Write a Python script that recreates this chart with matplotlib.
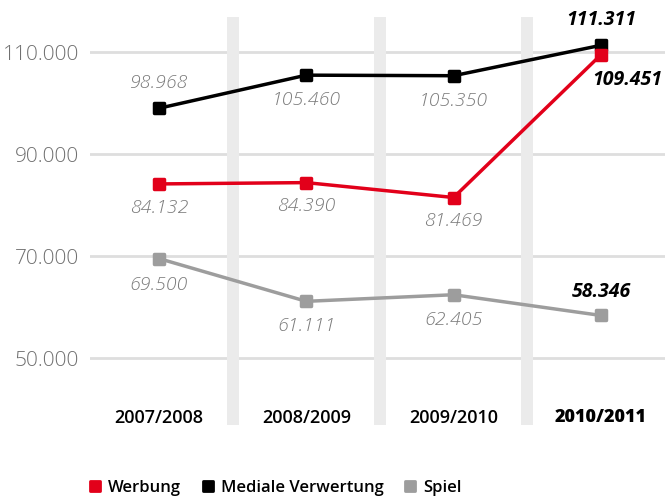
import matplotlib
matplotlib.use("Agg")
import matplotlib.pyplot as plt
from matplotlib.markers import MarkerStyle
from matplotlib.lines import Line2D

categories = ["2007/2008", "2008/2009", "2009/2010", "2010/2011"]
werbung = [84132, 84390, 81469, 109451]
mediale = [98968, 105460, 105350, 111311]
spiel = [69500, 61111, 62405, 58346]
yticks = [50000, 70000, 90000, 110000]
ytick_labels = ["50.000", "70.000", "90.000", "110.000"]

def fmt(v):
    return f"{v:,}".replace(",", ".")

RED = "#E2001A"
BLACK = "#000000"
GRAY = "#9D9D9D"

plt.rcParams['font.family'] = ['Open Sans', 'DejaVu Sans']

fig = plt.figure(figsize=(6.65, 4.99), dpi=100)
ax = fig.add_axes([90/665, 1-425/499, 575/665, 408/499])
ax.set_xlim(-0.468, 3.435)
ax.set_ylim(36863, 116863)

for s in ax.spines.values():
    s.set_visible(False)
ax.set_xticks([])
ax.set_yticks(yticks)
ax.set_yticklabels(ytick_labels, fontsize=15, color="#707070", fontweight=300)
ax.tick_params(axis='y', length=0, pad=8)
for y in yticks:
    ax.axhline(y, color="#DEDEDE", lw=2, zorder=0)

for i in range(len(categories) - 1):
    ax.axvspan(i + 0.46, i + 0.54, color="#EBEBEB", zorder=0.5, lw=0)

ms = MarkerStyle('s', joinstyle='round')
series = [(spiel, GRAY), (mediale, BLACK), (werbung, RED)]
for vals, c in series:
    ax.plot(range(len(categories)), vals, color=c, lw=2.5, marker=ms,
            markersize=7, markeredgewidth=2.5, markeredgecolor=c,
            markerfacecolor=c, zorder=3, solid_joinstyle='round')

# label placements: (dx, dy) in points
place = {
    "m": [(0, 18), (0, -18), (0, -18), (0, 18)],
    "w": [(0, -17), (0, -17), (0, -17), (19, -18)],
    "s": [(0, -19), (0, -18), (0, -18), (0, 17)],
}
for key, vals in (("m", mediale), ("w", werbung), ("s", spiel)):
    for i, v in enumerate(vals):
        dx, dy = place[key][i]
        last = i == len(vals) - 1
        ax.annotate(fmt(v), (i, v), xytext=(dx, dy), textcoords="offset points",
                    ha="center", va="center", fontsize=14, style="italic",
                    fontweight="bold" if last else 300,
                    color="#000000" if last else "#7A7A7A", zorder=4)

for i, c in enumerate(categories):
    ax.text(i, 38300, c, ha="center", va="center", fontsize=13,
            fontweight="heavy" if i == 3 else "semibold", color="#000000")

handles = [Line2D([], [], ls="none", marker=ms, markersize=7, markeredgewidth=2,
                  color=c) for c in (RED, BLACK, GRAY)]
fig.legend(handles, ["Werbung", "Mediale Verwertung", "Spiel"],
           loc="center", bbox_to_anchor=(275/665, 1-488/499), ncol=3,
           frameon=False, handlelength=0.8, handletextpad=0.4,
           columnspacing=1.2, prop={'weight': 'semibold', 'size': 12})

fig.savefig("out.png", dpi=100)
